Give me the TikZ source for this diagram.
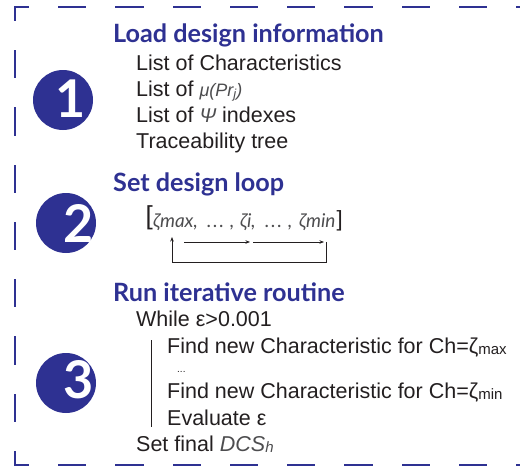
\documentclass[tikz,border=0pt]{standalone}
\usepackage{fontspec}
\setmainfont{Liberation Sans}
\newfontfamily\titlefont{Lato}
\usetikzlibrary{arrows.meta}
\definecolor{navy}{HTML}{2E3192}
\definecolor{ink}{HTML}{231F20}
\definecolor{greytext}{HTML}{4D4D4F}
\begin{document}
\begin{tikzpicture}[x=1pt,y=-1pt,
  frameline/.style={draw=navy,line width=2.4pt,line cap=rect,line join=miter,dash pattern=on 26pt off 31.25pt,dash phase=13pt},
  numcircle/.style={circle,fill=navy,minimum size=60pt,inner sep=0pt},
  numtext/.style={text=white,font=\titlefont\bfseries\fontsize{52}{52}\selectfont,inner sep=0pt},
  steptitle/.style={anchor=base west,inner sep=0pt,text=navy,font=\titlefont\bfseries\fontsize{25.2}{25.2}\selectfont},
  bodytext/.style={anchor=base west,inner sep=0pt,text=ink,font=\fontsize{21.5}{21.5}\selectfont},
  seqtext/.style={anchor=base west,inner sep=0pt,text=greytext,font=\titlefont\itshape\fontsize{19}{19}\selectfont},
  brack/.style={anchor=base west,inner sep=0pt,text=ink,font=\fontsize{26}{26}\selectfont},
  loopline/.style={draw=ink,line width=0.7pt},
  looparrow/.style={loopline,-{Stealth[length=4.5pt,width=3.5pt]}}
]
\useasboundingbox (0,0) rectangle (520,472);
% frame (left, top and bottom sides; right side lies outside the picture)
\coordinate (tl) at (15,7);
\coordinate (tr) at (587.5,7);
\coordinate (bl) at (15,465);
\coordinate (br) at (587.5,465);
\draw[frameline] (tr) -- (tl) -- (bl) -- (br);

% circles
\node[numcircle] (c1) at (63,100) {};
\node[numcircle] (c2) at (66,223) {};
\node[numcircle] (c3) at (66,383) {};
\node[numtext] (n1) at (71,99) {1};
\node[numtext] (n2) at (78.5,223.5) {2};
\node[numtext] (n3) at (79,379.5) {3};

% section 1
\node[steptitle] (t1) at (113,42) {Load design information};
\node[bodytext] (l1) at (136,70) {List of Characteristics};
\node[bodytext] (l2) at (136,96.5) {List of {\color{greytext}\itshape\fontsize{18}{18}\selectfont μ(Pr\raisebox{-2pt}{\fontsize{13}{13}\selectfont j})}};
\node[bodytext] (l3) at (136,122.5) {List of {\color{greytext}\itshape\fontsize{20}{20}\selectfont Ψ} indexes};
\node[bodytext] (l4) at (136,148.5) {Traceability tree};

% section 2
\node[steptitle] (t2) at (113,191) {Set design loop};
\node[brack] (lbr) at (145.5,224) {[};
\node[seqtext] (zmax) at (153,227) {ζmax,};
\node[seqtext] (d1) at (207,227) {\makebox[17pt][s]{.\hfil.\hfil.}};
\node[seqtext] (k1) at (230,227) {,};
\node[seqtext] (zi) at (240,227) {ζi,};
\node[seqtext] (d2) at (265,227) {\makebox[17pt][s]{.\hfil.\hfil.}};
\node[seqtext] (k2) at (288,227) {,};
\node[seqtext] (zmin) at (299,227) {ζmin};
\node[brack,font=\fontsize{22}{22}\selectfont] (rbr) at (336.5,226) {]};
\coordinate (a1s) at (184,242);
\coordinate (a1e) at (250,242);
\coordinate (a2s) at (253,242);
\coordinate (a2e) at (324,242);
\coordinate (rt) at (326.5,242);
\coordinate (rb) at (326.5,262);
\coordinate (lb) at (172,262);
\coordinate (lt) at (172,237);
\draw[looparrow] (a1s) -- (a1e);
\draw[looparrow] (a2s) -- (a2e);
\draw[looparrow] (rt) -- (rb) -- (lb) -- (lt);

% section 3
\node[steptitle] (t3) at (113,301) {Run iterative routine};
\node[bodytext] (w) at (136,326) {While ε>0.001};
\node[bodytext] (f1) at (167,353) {Find new Characteristic for Ch=ζ\raisebox{-1.5pt}{\fontsize{15}{15}\selectfont max}};
\node[bodytext,font=\fontsize{10}{10}\selectfont] (dots) at (177,372) {...};
\node[bodytext] (f2) at (167,398) {Find new Characteristic for Ch=ζ\raisebox{-1.5pt}{\fontsize{15}{15}\selectfont min}};
\node[bodytext] (ev) at (167,425) {Evaluate ε};
\node[bodytext] (sf) at (136,451) {Set final {\color{greytext}\itshape DCS\raisebox{-1.5pt}{\fontsize{15}{15}\selectfont h}}};
\coordinate (vt) at (151,340);
\coordinate (vb) at (151,427);
\draw[loopline,line width=0.8pt] (vt) -- (vb);
\end{tikzpicture}
\end{document}
